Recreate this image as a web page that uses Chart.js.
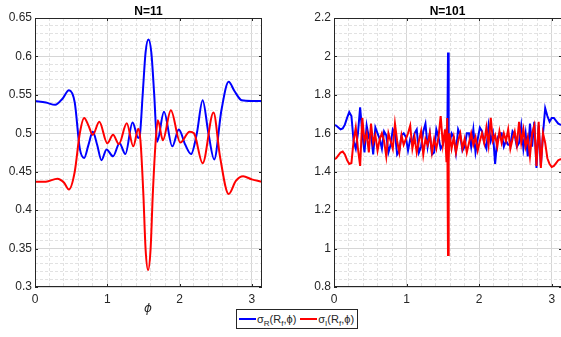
<!DOCTYPE html>
<html>
<head>
<meta charset="utf-8">
<script src="https://cdn.jsdelivr.net/npm/chart.js@4/dist/chart.umd.min.js"></script>
<style>
  body { margin: 0; background: #fff; width: 561px; height: 337px; overflow: hidden; position: relative; font-family: "Liberation Sans", Arial, sans-serif; color: #262626; }
  canvas { position: absolute; top: 0; }
  .title { position: absolute; top: 5px; font-weight: bold; font-size: 12px; line-height: 12px; text-align: center; color: #000; }
  .xlab { position: absolute; font-family: "DejaVu Sans", sans-serif; font-style: italic; font-size: 12px; line-height: 12px; }
  .legend { position: absolute; left: 236px; top: 309px; width: 122px; height: 20px; box-sizing: border-box; border: 1px solid #262626; background: #fff; font-size: 11px; display: flex; align-items: center; white-space: nowrap; }
  .legend .ln { display: inline-block; width: 17px; height: 0; border-top: 2px solid; margin: 0 1px 0 2px; vertical-align: middle; }
  .legend sub { font-size: 8px; vertical-align: -3px; line-height: 0; }
</style>
</head>
<body>
<canvas id="c1" width="270" height="337" style="left:0"></canvas>
<canvas id="c2" width="272" height="337" style="left:290px"></canvas>
<div class="title" style="left:35px;width:227px">N=11</div>
<div class="title" style="left:334px;width:227px">N=101</div>
<div class="xlab" style="left:144px;top:302px">ϕ</div>
<div class="legend">
  <span class="ln" style="border-color:#0000ff"></span><span>σ<sub>R</sub>(R<sub>f</sub>,ϕ)</span>
  <span class="ln" style="border-color:#ff0000;margin-left:4px"></span><span>σ<sub>I</sub>(R<sub>f</sub>,ϕ)</span>
</div>
<script>
// N=11, sigma_R
const phi11R = [0, 0.15, 0.28, 0.38, 0.47, 0.55, 0.62, 0.68, 0.74, 0.80, 0.86, 0.92, 0.99, 1.08, 1.17, 1.25, 1.35, 1.43, 1.45, 1.49, 1.53, 1.57, 1.61, 1.65, 1.69, 1.785, 1.90, 1.99, 2.08, 2.16, 2.24, 2.32, 2.40, 2.48, 2.58, 2.68, 2.76, 2.86, 3.00, 3.1416];
const sigR11 = [0.542, 0.540, 0.537, 0.545, 0.556, 0.540, 0.480, 0.468, 0.485, 0.502, 0.485, 0.465, 0.479, 0.470, 0.487, 0.473, 0.514, 0.494, 0.497, 0.550, 0.605, 0.622, 0.605, 0.550, 0.489, 0.528, 0.483, 0.505, 0.485, 0.473, 0.500, 0.543, 0.500, 0.466, 0.530, 0.567, 0.555, 0.543, 0.542, 0.542];
// N=11, sigma_I
const phi11I = [0, 0.15, 0.31, 0.40, 0.47, 0.55, 0.62, 0.68, 0.74, 0.80, 0.89, 1.00, 1.08, 1.16, 1.27, 1.36, 1.43, 1.46, 1.50, 1.53, 1.565, 1.60, 1.63, 1.67, 1.70, 1.77, 1.88, 2.01, 2.14, 2.20, 2.32, 2.47, 2.56, 2.68, 2.78, 2.88, 3.00, 3.1416];
const sigI11 = [0.437, 0.437, 0.441, 0.436, 0.427, 0.450, 0.500, 0.520, 0.510, 0.498, 0.515, 0.487, 0.498, 0.486, 0.513, 0.483, 0.506, 0.490, 0.420, 0.350, 0.322, 0.350, 0.420, 0.490, 0.517, 0.491, 0.530, 0.488, 0.502, 0.500, 0.461, 0.527, 0.470, 0.421, 0.438, 0.444, 0.440, 0.437];

// N=101
const phi101 = [0, 0.03, 0.06, 0.09, 0.12, 0.15, 0.18, 0.21, 0.24, 0.27, 0.30, 0.33, 0.36, 0.39, 0.42, 0.45, 0.48, 0.51, 0.54, 0.57,
  0.60, 0.63, 0.66, 0.69, 0.72, 0.75, 0.78, 0.81, 0.84, 0.87, 0.90, 0.93, 0.96, 0.99, 1.02, 1.05, 1.08, 1.11, 1.14, 1.17,
  1.20, 1.23, 1.26, 1.29, 1.32, 1.35, 1.38, 1.41, 1.44, 1.47, 1.50, 1.53, 1.55, 1.56, 1.571, 1.58, 1.59, 1.62, 1.65, 1.68,
  1.71, 1.74, 1.77, 1.80, 1.83, 1.86, 1.89, 1.92, 1.95, 1.98, 2.01, 2.04, 2.07, 2.10, 2.13, 2.16, 2.19, 2.22, 2.25, 2.28,
  2.31, 2.34, 2.37, 2.40, 2.43, 2.46, 2.49, 2.52, 2.55, 2.58, 2.61, 2.64, 2.67, 2.70, 2.73, 2.76, 2.79, 2.82, 2.85, 2.88,
  2.91, 2.94, 2.97, 3.00, 3.03, 3.06, 3.09, 3.12, 3.1416];
const sigR101 = [1.643, 1.640, 1.630, 1.620, 1.625, 1.645, 1.680, 1.710, 1.690, 1.560, 1.520, 1.600, 1.735, 1.600, 1.500, 1.640, 1.580, 1.600, 1.490, 1.630,
  1.600, 1.570, 1.520, 1.610, 1.590, 1.500, 1.540, 1.620, 1.600, 1.490, 1.510, 1.590, 1.600, 1.580, 1.510, 1.570, 1.550, 1.600, 1.620, 1.500,
  1.530, 1.610, 1.650, 1.530, 1.600, 1.490, 1.500, 1.620, 1.580, 1.520, 1.540, 1.600, 1.550, 1.520, 2.020, 1.560, 1.540, 1.600, 1.580, 1.500,
  1.620, 1.590, 1.510, 1.530, 1.600, 1.600, 1.530, 1.620, 1.500, 1.570, 1.630, 1.610, 1.550, 1.520, 1.640, 1.560, 1.600, 1.440, 1.570, 1.600,
  1.600, 1.530, 1.560, 1.540, 1.540, 1.610, 1.590, 1.530, 1.550, 1.640, 1.520, 1.600, 1.480, 1.650, 1.530, 1.660, 1.420, 1.640, 1.430, 1.600,
  1.730, 1.690, 1.660, 1.680, 1.680, 1.665, 1.650, 1.645, 1.643];
const sigI101 = [1.465, 1.470, 1.485, 1.500, 1.505, 1.490, 1.460, 1.440, 1.445, 1.560, 1.630, 1.520, 1.430, 1.680, 1.560, 1.600, 1.500, 1.650, 1.550, 1.590,
  1.510, 1.570, 1.600, 1.560, 1.480, 1.600, 1.560, 1.520, 1.650, 1.560, 1.500, 1.590, 1.540, 1.570, 1.600, 1.640, 1.520, 1.580, 1.500, 1.560,
  1.610, 1.490, 1.570, 1.540, 1.600, 1.500, 1.570, 1.520, 1.580, 1.690, 1.540, 1.620, 1.450, 1.680, 0.967, 1.450, 1.600, 1.520, 1.580, 1.500,
  1.560, 1.600, 1.520, 1.570, 1.500, 1.550, 1.600, 1.540, 1.580, 1.510, 1.560, 1.600, 1.550, 1.630, 1.540, 1.680, 1.560, 1.590, 1.530, 1.610,
  1.550, 1.600, 1.560, 1.620, 1.520, 1.570, 1.610, 1.540, 1.660, 1.550, 1.620, 1.530, 1.580, 1.480, 1.600, 1.640, 1.430, 1.660, 1.420, 1.600,
  1.550, 1.470, 1.440, 1.425, 1.430, 1.445, 1.460, 1.465, 1.465];

const xTicks = [0, 1, 2, 3];
const yTicks11 = [0.3, 0.35, 0.4, 0.45, 0.5, 0.55, 0.6, 0.65];
const yTicks101 = [0.8, 1, 1.2, 1.4, 1.6, 1.8, 2, 2.2];

const isMajor = (v, list) => list.some(t => Math.abs(t - v) < 1e-6);

// box round the axes and inward ticks, like matlab
const frame = {
  id: 'frame',
  afterDraw(chart, args, opts) {
    const { ctx, chartArea: a, scales: { x, y } } = chart;
    ctx.save();
    ctx.strokeStyle = '#262626';
    ctx.lineWidth = 1;
    ctx.strokeRect(a.left + 0.5, a.top + 0.5, a.right - a.left - 1, a.bottom - a.top - 1);
    ctx.beginPath();
    xTicks.forEach(v => {
      const px = Math.round(x.getPixelForValue(v)) + 0.5;
      ctx.moveTo(px, a.bottom); ctx.lineTo(px, a.bottom - 3);
      ctx.moveTo(px, a.top); ctx.lineTo(px, a.top + 3);
    });
    opts.yt.forEach(v => {
      const py = Math.round(y.getPixelForValue(v)) + 0.5;
      ctx.moveTo(a.left, py); ctx.lineTo(a.left + 3, py);
      ctx.moveTo(a.right, py); ctx.lineTo(a.right - 3, py);
    });
    ctx.stroke();
    ctx.restore();
  }
};

function makeChart(id, series, yMin, yMax, yStep, yt, yWidth, padRight, smooth) {
  const tickFont = { family: '"Liberation Sans", Arial, sans-serif', size: 12 };
  return new Chart(document.getElementById(id), {
    type: 'line',
    data: {
      datasets: series.map(s => ({
        data: s.x.map((v, i) => ({ x: v, y: s.y[i] })),
        borderColor: s.color,
        borderWidth: 2,
        pointRadius: 0,
        order: s.order,
        cubicInterpolationMode: smooth ? 'monotone' : 'default',
        tension: 0
      }))
    },
    options: {
      responsive: false,
      devicePixelRatio: 1,
      animation: false,
      layout: { padding: { top: 18, right: padRight, left: 0, bottom: 0 } },
      plugins: { legend: { display: false }, tooltip: { enabled: false }, frame: { yt } },
      scales: {
        x: {
          type: 'linear', min: 0, max: Math.PI,
          afterFit: s => { s.height = 50; },
          ticks: {
            stepSize: 0.2, autoSkip: false, includeBounds: false, maxRotation: 0, padding: 5,
            color: '#262626', font: tickFont,
            callback: v => isMajor(v, xTicks) ? String(Math.round(v)) : ''
          },
          grid: {
            drawTicks: false,
            color: c => c.tick && isMajor(c.tick.value, xTicks) ? '#d6d6d6' : '#e2e2e2'
          },
          border: { display: false, dash: c => c.tick && isMajor(c.tick.value, xTicks) ? [] : [3, 2] }
        },
        y: {
          type: 'linear', min: yMin, max: yMax,
          afterFit: s => { s.width = yWidth; },
          ticks: {
            stepSize: yStep, autoSkip: false, includeBounds: false, padding: 3,
            color: '#262626', font: tickFont,
            callback: v => isMajor(v, yt) ? String(+v.toFixed(2)) : ''
          },
          grid: {
            drawTicks: false,
            color: c => c.tick && isMajor(c.tick.value, yt) ? '#d6d6d6' : '#e2e2e2'
          },
          border: { display: false, dash: c => c.tick && isMajor(c.tick.value, yt) ? [] : [3, 2] }
        }
      }
    },
    plugins: [frame]
  });
}

makeChart('c1', [
  { x: phi11R, y: sigR11, color: '#0000ff', order: 1 },
  { x: phi11I, y: sigI11, color: '#ff0000', order: 0 }
], 0.3, 0.65, 0.01, yTicks11, 35, 8, true);

makeChart('c2', [
  { x: phi101, y: sigR101, color: '#0000ff', order: 1 },
  { x: phi101, y: sigI101, color: '#ff0000', order: 0 }
], 0.8, 2.2, 0.04, yTicks101, 44, 0, false);
</script>
</body>
</html>
